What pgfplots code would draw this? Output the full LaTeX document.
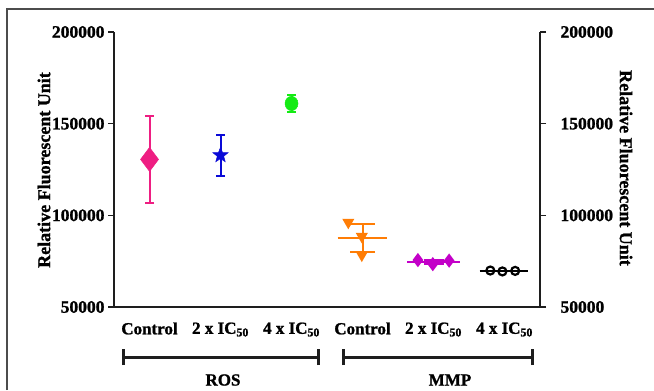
\documentclass[border=0pt]{standalone}
\usepackage{fontspec}
\setmainfont{Liberation Serif}[BoldFeatures={FakeBold=1.2}]
\usepackage{pgfplots}
\pgfplotsset{compat=1.18}
\definecolor{pinkc}{RGB}{238,30,130}
\definecolor{bluec}{RGB}{10,10,215}
\definecolor{greenc}{RGB}{20,235,20}
\definecolor{orangec}{RGB}{255,125,5}
\definecolor{magc}{RGB}{195,0,200}
\definecolor{axc}{RGB}{30,30,30}
\pgfdeclareplotmark{fstar}{%
  \pgfpathmoveto{\pgfqpointpolar{90}{\pgfplotmarksize}}%
  \pgfpathlineto{\pgfqpointpolar{126}{0.42\pgfplotmarksize}}%
  \pgfpathlineto{\pgfqpointpolar{162}{\pgfplotmarksize}}%
  \pgfpathlineto{\pgfqpointpolar{198}{0.42\pgfplotmarksize}}%
  \pgfpathlineto{\pgfqpointpolar{234}{\pgfplotmarksize}}%
  \pgfpathlineto{\pgfqpointpolar{270}{0.42\pgfplotmarksize}}%
  \pgfpathlineto{\pgfqpointpolar{306}{\pgfplotmarksize}}%
  \pgfpathlineto{\pgfqpointpolar{342}{0.42\pgfplotmarksize}}%
  \pgfpathlineto{\pgfqpointpolar{18}{\pgfplotmarksize}}%
  \pgfpathlineto{\pgfqpointpolar{54}{0.42\pgfplotmarksize}}%
  \pgfpathclose\pgfusepathqfillstroke}
\begin{document}
\begin{tikzpicture}[x=1bp,y=1bp,font=\fontsize{17bp}{19bp}\selectfont\bfseries]
\useasboundingbox (0,0) rectangle (654,390);
\draw[gray!60!black, line width=1.3bp] (7,0) -- (7,381) -- (654,381);
\pgfplotsset{
  common/.style={
    at={(114bp,83bp)}, anchor=south west,
    scale only axis, width=426bp, height=275bp,
    xmin=0, xmax=6, ymin=50000, ymax=200000,
    ytick={50000,100000,150000,200000},
    scaled y ticks=false,
    yticklabel style={/pgf/number format/fixed, /pgf/number format/1000 sep={}, font=\fontsize{17.5bp}{19bp}\selectfont\bfseries},
    /pgf/number format/assume math mode=true,
    tick align=outside, major tick length=6bp,
    every axis plot/.append style={line width=2bp},
    axis line style={axc, line width=1.5bp},
    tick style={axc, line width=1.5bp},
    clip=false,
  }
}
\begin{axis}[common,
  axis x line*=bottom, axis y line*=left,
  xtick={0.5,1.5,2.5,3.5,4.5,5.5},
  xticklabels={Control, 2 x IC\textsubscript{50}, 4 x IC\textsubscript{50}, Control, 2 x IC\textsubscript{50}, 4 x IC\textsubscript{50}},
  xticklabel style={yshift=-6bp, font=\fontsize{17bp}{19bp}\selectfont\bfseries},
  x axis line style={-},
  y axis line style={-},
  xtick style={draw=none},
]
% ROS Control
\addplot[pinkc, mark=diamond*, mark size=12bp, mark options={line width=0.5bp},
  error bars/.cd, y dir=both, y explicit,
  error bar style={line width=2bp, pinkc},
  error mark options={rotate=90, mark size=4.5bp, line width=2bp, pinkc}]
  coordinates {(0.5,130500) +- (0,23500)};
% ROS 2xIC50
\addplot[bluec, mark=fstar, mark size=8bp, mark options={line width=0.5bp},
  error bars/.cd, y dir=both, y explicit,
  error bar style={line width=2bp, bluec},
  error mark options={rotate=90, mark size=4.5bp, line width=2bp, bluec}]
  coordinates {(1.5,132800) +- (0,11200)};
% ROS 4xIC50
\addplot[greenc, mark=*, mark size=6.5bp, mark options={line width=0.5bp, yscale=1.1},
  error bars/.cd, y dir=both, y explicit,
  error bar style={line width=2bp, greenc},
  error mark options={rotate=90, mark size=4.5bp, line width=2bp, greenc}]
  coordinates {(2.5,161000) +- (0,4800)};
% MMP Control
\addplot[orangec, only marks, mark=triangle*, mark size=5bp, mark options={rotate=180}]
  coordinates {(3.30,96200) (3.49,88500) (3.49,78300)};
\addplot[orangec] coordinates {(3.15,87500) (3.85,87500)};
\addplot[orangec, draw=none,
  error bars/.cd, y dir=both, y explicit,
  error bar style={line width=2bp, orangec},
  error mark options={rotate=90, mark size=12.5bp, line width=2bp, orangec}]
  coordinates {(3.5,87500) +- (0,7700)};
% MMP 2xIC50
\addplot[magc, only marks, mark=diamond*, mark size=5.5bp]
  coordinates {(4.28,75600) (4.49,73400) (4.72,75300)};
\addplot[magc] coordinates {(4.13,74800) (4.87,74800)};
\addplot[magc, draw=none,
  error bars/.cd, y dir=both, y explicit,
  error bar style={line width=2bp, magc},
  error mark options={rotate=90, mark size=10bp, line width=2bp, magc}]
  coordinates {(4.5,74800) +- (0,1100)};
% MMP 4xIC50
\addplot[black, only marks, mark=o, mark size=4bp, mark options={line width=2.2bp}]
  coordinates {(5.30,69900) (5.47,69400) (5.65,69700)};
\addplot[black] coordinates {(5.15,69700) (5.83,69700)};
\end{axis}
\begin{axis}[common,
  axis x line=none, axis y line*=right,
  y axis line style={-},
  yticklabel style={xshift=11bp},
]
\end{axis}
\draw[axc, line width=1.5bp] (540,83) -- (545,83);
% axis titles
\node[rotate=90, font=\fontsize{18bp}{20bp}\selectfont\bfseries] at (44,220) {Relative Fluorescent Unit};
\node[rotate=-90, font=\fontsize{18bp}{20bp}\selectfont\bfseries] at (626,222) {Relative Fluorescent Unit};
% group brackets
\draw[axc, line width=3bp] (123,33) -- (318,33);
\draw[axc, line width=3bp] (123,25) -- (123,41);
\draw[axc, line width=3bp] (318,25) -- (318,41);
\draw[axc, line width=3bp] (343,33) -- (532,33);
\draw[axc, line width=3bp] (343,25) -- (343,41);
\draw[axc, line width=3bp] (532,25) -- (532,41);
\node at (223,10) {ROS};
\node at (450,10) {MMP};
\end{tikzpicture}
\end{document}
